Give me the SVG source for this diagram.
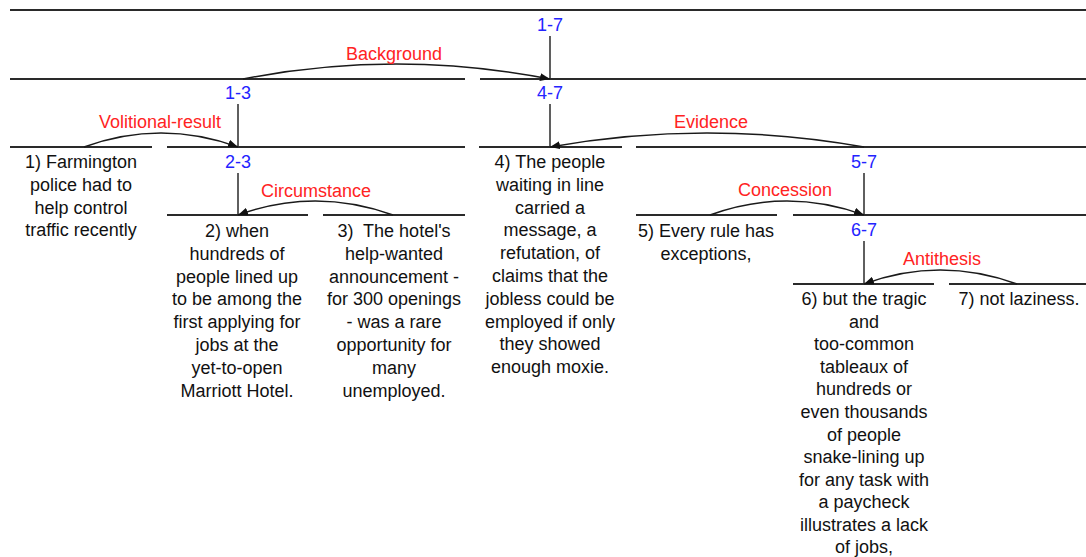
<svg xmlns="http://www.w3.org/2000/svg" width="1086" height="557" viewBox="0 0 1086 557">
<style>
text{font-family:"Liberation Sans",Arial,sans-serif;font-size:18px;text-anchor:middle}
.t{fill:#111}
.s{fill:#2323ff}
.r{fill:#ff2323}
.h{stroke:#2a2a2a;stroke-width:2;fill:none}
.v{stroke:#2a2a2a;stroke-width:1.5;fill:none}
.a{stroke:#1a1a1a;stroke-width:1.5;fill:none;marker-end:url(#ah)}
</style>
<defs>
<marker id="ah" viewBox="0 0 10 8" refX="10" refY="4" markerWidth="10" markerHeight="8" markerUnits="userSpaceOnUse" orient="auto">
<path d="M0,0 L10,4 L0,8 Z" fill="#111"/>
</marker>
</defs>
<rect width="1086" height="557" fill="#fff"/>
<g id="span-1-7"><line class="h" x1="10" y1="10" x2="1086" y2="10"/><text class="s" x="550" y="31">1-7</text><line class="v" x1="550" y1="36" x2="550" y2="79"/></g>
<g id="span-1-3"><line class="h" x1="10" y1="79" x2="465" y2="79"/><text class="s" x="238" y="99">1-3</text><line class="v" x1="238" y1="104" x2="238" y2="147"/></g>
<g id="span-4-7"><line class="h" x1="480" y1="79" x2="1086" y2="79"/><text class="s" x="550" y="99">4-7</text><line class="v" x1="550" y1="104" x2="550" y2="147"/></g>
<g id="span-2-3"><line class="h" x1="167" y1="147" x2="465" y2="147"/><text class="s" x="238" y="168">2-3</text><line class="v" x1="238" y1="173" x2="238" y2="215"/></g>
<g id="span-5-7"><line class="h" x1="636" y1="147" x2="1086" y2="147"/><text class="s" x="864" y="168">5-7</text><line class="v" x1="864" y1="173" x2="864" y2="215"/></g>
<g id="span-6-7"><line class="h" x1="793" y1="215" x2="1086" y2="215"/><text class="s" x="864" y="236">6-7</text><line class="v" x1="864" y1="241" x2="864" y2="284"/></g>
<g id="node-1"><line class="h" x1="10" y1="147" x2="152" y2="147"/>
<text class="t" x="81"><tspan x="81" y="168">1) Farmington</tspan><tspan x="81" y="190.8">police had to</tspan><tspan x="81" y="213.6">help control</tspan><tspan x="81" y="236.4">traffic recently</tspan></text></g>
<g id="node-2"><line class="h" x1="167" y1="215" x2="308" y2="215"/>
<text class="t" x="237"><tspan x="237" y="237">2) when</tspan><tspan x="237" y="259.8">hundreds of</tspan><tspan x="237" y="282.6">people lined up</tspan><tspan x="237" y="305.4">to be among the</tspan><tspan x="237" y="328.2">first applying for</tspan><tspan x="237" y="351">jobs at the</tspan><tspan x="237" y="373.8">yet-to-open</tspan><tspan x="237" y="396.6">Marriott Hotel.</tspan></text></g>
<g id="node-3"><line class="h" x1="323" y1="215" x2="465" y2="215"/>
<text class="t" x="394"><tspan x="394" y="237">3)&#160; The hotel's</tspan><tspan x="394" y="259.8">help-wanted</tspan><tspan x="394" y="282.6">announcement -</tspan><tspan x="394" y="305.4">for 300 openings</tspan><tspan x="394" y="328.2">- was a rare</tspan><tspan x="394" y="351">opportunity for</tspan><tspan x="394" y="373.8">many</tspan><tspan x="394" y="396.6">unemployed.</tspan></text></g>
<g id="node-4"><line class="h" x1="479" y1="147" x2="622" y2="147"/>
<text class="t" x="550"><tspan x="550" y="168">4) The people</tspan><tspan x="550" y="190.8">waiting in line</tspan><tspan x="550" y="213.6">carried a</tspan><tspan x="550" y="236.4">message, a</tspan><tspan x="550" y="259.2">refutation, of</tspan><tspan x="550" y="282">claims that the</tspan><tspan x="550" y="304.8">jobless could be</tspan><tspan x="550" y="327.6">employed if only</tspan><tspan x="550" y="350.4">they showed</tspan><tspan x="550" y="373.2">enough moxie.</tspan></text></g>
<g id="node-5"><line class="h" x1="636" y1="215" x2="777" y2="215"/>
<text class="t" x="706"><tspan x="706" y="237">5) Every rule has</tspan><tspan x="706" y="259.8">exceptions,</tspan></text></g>
<g id="node-6"><line class="h" x1="793" y1="284" x2="934" y2="284"/>
<text class="t" x="864"><tspan x="864" y="305">6) but the tragic</tspan><tspan x="864" y="327.6">and</tspan><tspan x="864" y="350.2">too-common</tspan><tspan x="864" y="372.8">tableaux of</tspan><tspan x="864" y="395.4">hundreds or</tspan><tspan x="864" y="418">even thousands</tspan><tspan x="864" y="440.6">of people</tspan><tspan x="864" y="463.2">snake-lining up</tspan><tspan x="864" y="485.8">for any task with</tspan><tspan x="864" y="508.4">a paycheck</tspan><tspan x="864" y="531">illustrates a lack</tspan><tspan x="864" y="553">of jobs,</tspan></text></g>
<g id="node-7"><line class="h" x1="949" y1="284" x2="1086" y2="284"/>
<text class="t" x="1019" y="305">7) not laziness.</text></g>
<g id="connectors">
<path class="a" d="M243,79 Q396,49 550,79"/>
<text class="r" x="394" y="60">Background</text>
<path class="a" d="M84,147 Q161,119 238,147"/>
<text class="r" x="160" y="128">Volitional-result</text>
<path class="a" d="M864,147 Q707,119 550,147"/>
<text class="r" x="711" y="128">Evidence</text>
<path class="a" d="M393,215 Q315,187 238,215"/>
<text class="r" x="316" y="197">Circumstance</text>
<path class="a" d="M710,215 Q787,187 864,215"/>
<text class="r" x="785" y="196">Concession</text>
<path class="a" d="M1017,284 Q940,256 864,284"/>
<text class="r" x="942" y="265">Antithesis</text>
</g>
</svg>
